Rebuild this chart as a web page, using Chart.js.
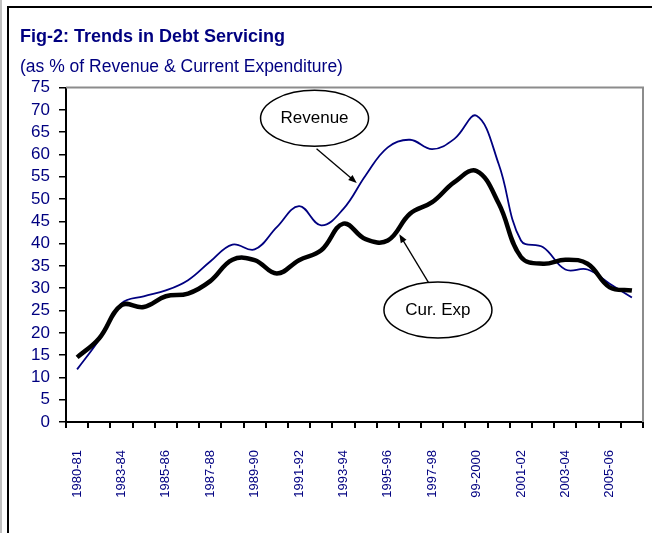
<!DOCTYPE html>
<html lang="en">
<head>
  <meta charset="UTF-8">
  <title>Fig-2: Trends in Debt Servicing</title>
  <script src="https://cdn.jsdelivr.net/npm/chart.js"></script>
  <style>
    body {
      margin: 0;
      background: #ffffff;
    }
    canvas {
      display: block;
    }
  </style>
</head>
<body>
  <canvas id="grafico" width="652" height="533"></canvas>

  <script>
    // every other period is labelled on the axis, as in the original
    const periods = [
      '1980-81', '', '1983-84', '', '1985-86', '', '1987-88', '', '1989-90', '',
      '1991-92', '', '1993-94', '', '1995-96', '', '1997-98', '', '99-2000', '',
      '2001-02', '', '2003-04', '', '2005-06', ''
    ];
    const revenue = [
      11.8, 18.5, 26.6, 28.2, 29.5, 31.8, 36.0, 39.8, 38.7, 43.7,
      48.4, 44.1, 47.8, 55.3, 61.6, 63.3, 61.2, 63.5, 68.7, 57.8,
      40.7, 39.2, 34.2, 34.2, 31.0, 27.9
    ];
    const curExp = [
      14.5, 18.8, 26.2, 25.8, 28.2, 28.8, 31.6, 36.4, 36.3, 33.3,
      36.3, 38.5, 44.5, 41.0, 40.7, 46.7, 49.3, 53.8, 56.3, 49.0,
      37.0, 35.5, 36.4, 35.5, 30.2, 29.5
    ];
    const yTicks = { min: 0, max: 75, step: 5 };

    // callouts, anchored in data units (x = category index, y = %)
    const callouts = [
      { text: 'Revenue', cx: 10.7, cy: 68.1, from: [10.79, 61.3], to: [12.6, 53.6] },
      { text: 'Cur. Exp', cx: 16.26, cy: 25.1, from: [15.83, 31.3], to: [14.52, 42.1] }
    ];

    const navy = '#000080';
    const arial = "'Liberation Sans', Arial, sans-serif";

    const moldura = {
      id: 'moldura',
      beforeDraw(chart) {
        const ctx = chart.ctx;
        ctx.save();
        ctx.fillStyle = '#ffffff';
        ctx.fillRect(0, 0, chart.width, chart.height);
        ctx.strokeStyle = '#c0c0c0';
        ctx.lineWidth = 2;
        ctx.beginPath();
        ctx.moveTo(1, 0);
        ctx.lineTo(1, chart.height);
        ctx.stroke();
        ctx.strokeStyle = '#000000';
        ctx.lineWidth = 2;
        ctx.strokeRect(8, 7, 700, 600);
        ctx.restore();
      },
      beforeDatasetsDraw(chart) {
        const a = chart.chartArea;
        const ctx = chart.ctx;
        ctx.save();
        ctx.strokeStyle = '#8c8c8c';
        ctx.lineWidth = 2;
        ctx.beginPath();
        ctx.moveTo(a.left, a.top);
        ctx.lineTo(a.right, a.top);
        ctx.lineTo(a.right, a.bottom);
        ctx.stroke();
        ctx.restore();
      },
      afterDatasetsDraw(chart) {
        const ctx = chart.ctx;
        const x = chart.scales.x;
        const y = chart.scales.y;
        ctx.save();
        for (const c of callouts) {
          const cx = x.getPixelForValue(c.cx);
          const cy = y.getPixelForValue(c.cy);
          ctx.beginPath();
          ctx.ellipse(cx, cy, 54, 28, 0, 0, Math.PI * 2);
          ctx.fillStyle = '#ffffff';
          ctx.fill();
          ctx.strokeStyle = '#000000';
          ctx.lineWidth = 1.5;
          ctx.stroke();
          ctx.fillStyle = '#000000';
          ctx.font = '17px ' + arial;
          ctx.textAlign = 'center';
          ctx.textBaseline = 'middle';
          ctx.fillText(c.text, cx, cy);

          const x1 = x.getPixelForValue(c.from[0]);
          const y1 = y.getPixelForValue(c.from[1]);
          const x2 = x.getPixelForValue(c.to[0]);
          const y2 = y.getPixelForValue(c.to[1]);
          const ang = Math.atan2(y2 - y1, x2 - x1);
          ctx.lineWidth = 1.3;
          ctx.beginPath();
          ctx.moveTo(x1, y1);
          ctx.lineTo(x2 - 6 * Math.cos(ang), y2 - 6 * Math.sin(ang));
          ctx.stroke();
          ctx.beginPath();
          ctx.moveTo(x2, y2);
          ctx.lineTo(x2 - 9 * Math.cos(ang - 0.38), y2 - 9 * Math.sin(ang - 0.38));
          ctx.lineTo(x2 - 9 * Math.cos(ang + 0.38), y2 - 9 * Math.sin(ang + 0.38));
          ctx.closePath();
          ctx.fill();
        }
        ctx.restore();
      }
    };

    new Chart(document.getElementById('grafico'), {
      type: 'line',
      data: {
        labels: periods,
        datasets: [
          {
            label: 'Cur. Exp',
            data: curExp,
            borderColor: '#000000',
            borderWidth: 4.5,
            tension: 0.4,
            pointRadius: 0,
            fill: false
          },
          {
            label: 'Revenue',
            data: revenue,
            borderColor: navy,
            borderWidth: 1.8,
            tension: 0.4,
            pointRadius: 0,
            fill: false
          }
        ]
      },
      options: {
        responsive: false,
        animation: false,
        layout: {
          padding: { left: 20, right: 9, top: 0, bottom: 0 }
        },
        plugins: {
          legend: { display: false },
          tooltip: { enabled: false },
          title: {
            display: true,
            text: 'Fig-2: Trends in Debt Servicing',
            align: 'start',
            color: navy,
            font: { family: arial, size: 18, weight: 'bold' },
            padding: { top: 26, bottom: 2 }
          },
          subtitle: {
            display: true,
            text: '(as % of Revenue & Current Expenditure)',
            align: 'start',
            color: navy,
            font: { family: arial, size: 17.5, weight: 'normal' },
            padding: { top: 7, bottom: 10 }
          }
        },
        scales: {
          x: {
            offset: true,
            afterFit(scale) {
              scale.height = 111;
              scale.paddingLeft = 0;
              scale.paddingRight = 0;
            },
            grid: {
              offset: true,
              drawOnChartArea: false,
              drawTicks: true,
              tickLength: 6,
              color: '#000000',
              lineWidth: 2
            },
            border: { display: true, color: '#000000', width: 2 },
            ticks: {
              autoSkip: false,
              maxRotation: 90,
              minRotation: 90,
              padding: 22,
              color: navy,
              font: { family: arial, size: 13 }
            }
          },
          y: {
            min: yTicks.min,
            max: yTicks.max,
            afterFit(scale) {
              scale.width = 46;
              scale.paddingTop = 0;
              scale.paddingBottom = 0;
            },
            grid: {
              drawOnChartArea: false,
              drawTicks: true,
              tickLength: 7,
              color: '#000000',
              lineWidth: 1.5
            },
            border: { display: true, color: '#000000', width: 2 },
            ticks: {
              stepSize: yTicks.step,
              autoSkip: false,
              padding: 9,
              color: navy,
              font: { family: arial, size: 17 }
            }
          }
        }
      },
      plugins: [moldura]
    });
  </script>
</body>
</html>
